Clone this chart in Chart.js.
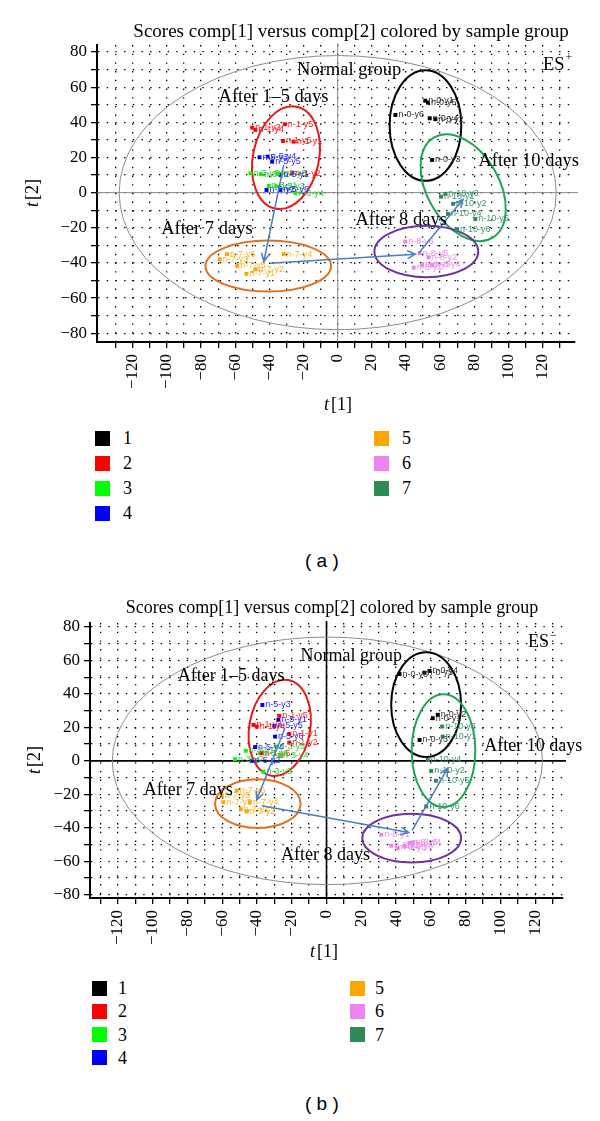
<!DOCTYPE html>
<html><head><meta charset="utf-8">
<script src="https://cdn.jsdelivr.net/npm/chart.js@4.4.1/dist/chart.umd.min.js"></script>
<style>
html,body{margin:0;padding:0;background:#fff;}
body{width:600px;height:1121px;overflow:hidden;position:relative;font-family:"Liberation Serif","DejaVu Serif",serif;}
canvas{position:absolute;left:0;}
.lg{position:absolute;font-size:18px;line-height:18px;color:#000;}
.sw{position:absolute;width:15px;height:15px;}
.cap{position:absolute;font-family:"Liberation Sans",Arial,sans-serif;font-size:19px;color:#000;}
</style></head><body>
<canvas id="ca" width="600" height="420" style="top:0"></canvas>
<canvas id="cb" width="600" height="390" style="top:580px"></canvas>
<div id="legends"></div>
<div class="cap" style="left:305px;top:550px">( a )</div>
<div class="cap" style="left:305px;top:1093px">( b )</div>
<script>
// ---------- DATA ----------
const groupNames = ['1','2','3','4','5','6','7'];
const groupColors = ['#000000','#ff0000','#00ff00','#0000ff','#ffa500','#ee82ee','#2e8b57'];
const labelColors = ['#333333','#ff2020','#30d030','#2a2aff','#ffb420','#f088f0','#3c9a66'];
const xTickValues = [-130,-120,-110,-100,-90,-80,-70,-60,-50,-40,-30,-20,-10,0,10,20,30,40,50,60,70,80,90,100,110,120,130];
const yTickValues = [-80,-70,-60,-50,-40,-30,-20,-10,0,10,20,30,40,50,60,70,80];

// Chart (a) ES+ scores
const a1 = [{x:51.3,y:52.3,n:'n-0-y1'},{x:52.9,y:51.2,n:'n-0-y5'},{x:33.8,y:44.2,n:'n-0-y6'},{x:53.9,y:42.3,n:'n-0-y4'},{x:57.2,y:41.8,n:'n-0-y2'},{x:55.3,y:18.6,n:'n-0-y3'}];
const a2 = [{x:-50.1,y:37,n:'n-1-y3'},{x:-48.2,y:35.7,n:'n-1-y4'},{x:-31,y:38.9,n:'n-1-y5'},{x:-32,y:29.4,n:'n-1-y6'},{x:-25.8,y:29,n:'n-1-y1'},{x:-26.7,y:11,n:'n-1-y2'}];
const a3 = [{x:-51.1,y:11,n:'n-3-y6'},{x:-45,y:10.5,n:'n-3-y2'},{x:-40.4,y:3.8,n:'n-3-y1'},{x:-36,y:3.6,n:'n-3-y3'},{x:-24.8,y:-0.3,n:'n-3-y4'},{x:-35,y:11,n:'n-3-y5'}];
const a4 = [{x:-45.8,y:20.1,n:'n-5-y3'},{x:-41,y:20.5,n:'n-5-y4'},{x:-38.4,y:17.6,n:'n-5-y5'},{x:-33.5,y:10.1,n:'n-5-y1'},{x:-41.7,y:1.5,n:'n-5-y2'},{x:-33.5,y:1.5,n:'n-5-y6'}];
const a5 = [{x:-69.1,y:-37.9,n:'n-7-y3'},{x:-64.8,y:-35,n:'n-7-y6'},{x:-58.9,y:-41.7,n:'n-7-y5'},{x:-31.6,y:-35,n:'n-7-y4'},{x:-48.2,y:-43.6,n:'n-7-y2'},{x:-53.5,y:-46.2,n:'n-7-y1'}];
const a6 = [{x:39.6,y:-27.9,n:'n-8-y6'},{x:48,y:-34.5,n:'n-8-y5'},{x:53.3,y:-36.8,n:'n-8-y2'},{x:44.5,y:-42.7,n:'n-8-y1'},{x:49.4,y:-41.1,n:'n-8-y3'},{x:55.3,y:-41.1,n:'n-8-y4'}];
const a7 = [{x:60.5,y:-2.3,n:'n-10-y1'},{x:63,y:-0.7,n:'n-10-y3'},{x:67.6,y:-6.4,n:'n-10-y2'},{x:64.6,y:-12.1,n:'n-10-y4'},{x:80.6,y:-15,n:'n-10-y5'},{x:69.9,y:-20.8,n:'n-10-y6'}];

// Chart (b) ES- scores
const b1 = [{x:42,y:51.9,n:'n-0-y6'},{x:56.3,y:52.7,n:'n-0-y5'},{x:59.2,y:53.7,n:'n-0-y4'},{x:61.1,y:25.5,n:'n-0-y1'},{x:64,y:27.5,n:'n-0-y2'},{x:53.5,y:12.5,n:'n-0-y3'}];
const b2 = [{x:-42,y:21.5,n:'n-1-y3'},{x:-40.1,y:20.5,n:'n-1-y4'},{x:-27.2,y:26.9,n:'n-1-y5'},{x:-21.4,y:16.1,n:'n-1-y1'},{x:-21.4,y:10.9,n:'n-1-y2'},{x:-37.3,y:4.6,n:'n-1-y6'}];
const b3 = [{x:-46.4,y:6,n:'n-3-y1'},{x:-52.6,y:1,n:'n-3-y2'},{x:-28.7,y:8.5,n:'n-3-y5'},{x:-36.3,y:-6.4,n:'n-3-y3'},{x:-26.8,y:3,n:'n-3-y4'},{x:-38.2,y:4.6,n:'n-3-y6'}];
const b4 = [{x:-36.9,y:33.4,n:'n-5-y3'},{x:-27.7,y:24.5,n:'n-5-y1'},{x:-30,y:20.9,n:'n-5-y5'},{x:-29.6,y:14.5,n:'n-5-y6'},{x:-41.1,y:8.2,n:'n-5-y4'},{x:-43,y:0,n:'n-5-y2'}];
const b5 = [{x:-51.6,y:-17.7,n:'n-7-y6'},{x:-60.2,y:-20.9,n:'n-7-y5'},{x:-59.3,y:-24.7,n:'n-7-y3'},{x:-44,y:-24.7,n:'n-7-y4'},{x:-49.3,y:-28.9,n:'n-7-y1'},{x:-45.8,y:-30.2,n:'n-7-y2'}];
const b6 = [{x:31.5,y:-44.2,n:'n-8-y1'},{x:37.2,y:-50.7,n:'n-8-y2'},{x:41,y:-52.1,n:'n-8-y3'},{x:47.7,y:-49.1,n:'n-8-y5'},{x:49.6,y:-48.8,n:'n-8-y4'},{x:44.9,y:-51.2,n:'n-8-y6'}];
const b7 = [{x:66.5,y:20.5,n:'n-10-y3'},{x:66.8,y:14.5,n:'n-10-y1'},{x:58.2,y:0.6,n:'n-10-y4'},{x:60.2,y:-6,n:'n-10-y2'},{x:63,y:-11.9,n:'n-10-y5'},{x:57.3,y:-27.3,n:'n-10-y6'}];

// confidence ellipses: centre, semi-axes (data units), tilt (deg)
const ellA = [
  {cx:0,cy:0,rx:128,ry:78,rot:0,c:'#8c8c8c',w:1},
  {cx:51.4,cy:38.2,rx:21,ry:31.5,rot:0,c:'#000000',w:2},
  {cx:-30.3,cy:19.9,rx:19.3,ry:29.6,rot:12,c:'#e8191b',w:2},
  {cx:73.5,cy:2.8,rx:21.1,ry:33,rot:-30,c:'#1fa653',w:2},
  {cx:-40.7,cy:-41.8,rx:36.8,ry:14.5,rot:0,c:'#e0701e',w:2},
  {cx:51.9,cy:-33.5,rx:30.4,ry:14.6,rot:0,c:'#7030a0',w:2}
];
const ellB = [
  {cx:0.5,cy:0,rx:123.7,ry:74,rot:0,c:'#8c8c8c',w:1},
  {cx:57.3,cy:33.6,rx:20.1,ry:31.3,rot:0,c:'#000000',w:2},
  {cx:-26.9,cy:19.7,rx:17.5,ry:29,rot:10,c:'#e8191b',w:2},
  {cx:67.3,cy:6.1,rx:18.3,ry:33.7,rot:0,c:'#1fa653',w:2},
  {cx:-39.5,cy:-25.6,rx:24.6,ry:14.6,rot:0,c:'#e0701e',w:2},
  {cx:49,cy:-46.2,rx:28.4,ry:14.6,rot:0,c:'#7030a0',w:2}
];
// trajectory arrows [x1,y1,x2,y2]
const arrA = [[-31.6,15.8,-43.3,-39.2],[-39.4,-40.2,45.5,-35],[47.4,-34.5,73.4,-3.8]];
const arrB = [[-23.9,19.5,-40.1,-23.3],[-37.2,-26.9,47.3,-42.8],[49.3,-41.6,69.7,-4.4]];
// annotations (left edge x, middle y in data units)
const noteA = [{t:'Normal group',x:-23.8,y:69.8},{t:'After 1\u20135 days',x:-69.8,y:54.4},{t:'After 10 days',x:82.4,y:18},{t:'After 7 days',x:-103.4,y:-20.6},{t:'After 8 days',x:10.4,y:-15.5}];
const noteB = [{t:'Normal group',x:-14.9,y:62.7},{t:'After 1\u20135 days',x:-85.6,y:50.7},{t:'After 10 days',x:90.7,y:9},{t:'After 7 days',x:-105.1,y:-17.3},{t:'After 8 days',x:-26.2,y:-56.5}];

// ---------- RENDER ----------
const SERIF = '"Liberation Serif","DejaVu Serif",serif';
const SANS = '"Liberation Sans",Arial,sans-serif';
const fmt = v => (v < 0 ? '\u2212' + Math.abs(v) : String(v));

function overlay(spec){
  return {
    id:'ov',
    beforeDatasetsDraw(chart){
      const {ctx, chartArea:a, scales:{x,y}} = chart;
      ctx.save();
      const x0=x.getPixelForValue(0), y0=y.getPixelForValue(0);
      ctx.strokeStyle=spec.zeroColor; ctx.lineWidth=spec.zeroWidth;
      ctx.beginPath(); ctx.moveTo(x0,a.top-2); ctx.lineTo(x0,a.bottom);
      ctx.moveTo(a.left,y0); ctx.lineTo(a.right+3,y0); ctx.stroke();
      spec.ell.forEach(e=>{
        const cx=x.getPixelForValue(e.cx), cy=y.getPixelForValue(e.cy);
        const rx=Math.abs(x.getPixelForValue(e.cx+e.rx)-cx), ry=Math.abs(y.getPixelForValue(e.cy+e.ry)-cy);
        ctx.beginPath(); ctx.strokeStyle=e.c; ctx.lineWidth=e.w;
        ctx.ellipse(cx,cy,rx,ry,e.rot*Math.PI/180,0,Math.PI*2); ctx.stroke();
      });
      ctx.restore();
    },
    afterDatasetsDraw(chart){
      const {ctx, chartArea:a, scales:{x,y}} = chart;
      ctx.save();
      // point labels
      ctx.font = '9px '+SANS; ctx.textBaseline='middle'; ctx.textAlign='left';
      chart.data.datasets.forEach((ds,i)=>{
        const meta = chart.getDatasetMeta(i);
        ctx.fillStyle = labelColors[i];
        meta.data.forEach((pt,j)=>{ ctx.fillText(ds.data[j].n, pt.x+3, pt.y); });
      });
      // arrows
      ctx.strokeStyle='#4a7ebf'; ctx.lineWidth=1.5;
      spec.arr.forEach(r=>{
        const x1=x.getPixelForValue(r[0]), y1=y.getPixelForValue(r[1]);
        const x2=x.getPixelForValue(r[2]), y2=y.getPixelForValue(r[3]);
        const ang=Math.atan2(y2-y1,x2-x1), h=9, s=0.45;
        ctx.beginPath(); ctx.moveTo(x1,y1); ctx.lineTo(x2,y2);
        ctx.moveTo(x2-h*Math.cos(ang-s), y2-h*Math.sin(ang-s)); ctx.lineTo(x2,y2);
        ctx.lineTo(x2-h*Math.cos(ang+s), y2-h*Math.sin(ang+s)); ctx.stroke();
      });
      // annotations
      ctx.fillStyle='#000'; ctx.font=spec.noteFont+'px '+SERIF; ctx.textBaseline='middle'; ctx.textAlign='left';
      spec.notes.forEach(n=>{ ctx.fillText(n.t, x.getPixelForValue(n.x), y.getPixelForValue(n.y)); });
      // ES label
      const ex=spec.es.x, ey=spec.es.y;
      ctx.fillText('ES', ex, ey);
      const w=ctx.measureText('ES').width;
      ctx.font='12px '+SERIF; ctx.fillText(spec.es.sup, ex+w+1, ey-7);
      // title
      ctx.font=spec.titleFont+'px '+SERIF; ctx.textAlign='center';
      ctx.fillText('Scores comp[1] versus comp[2] colored by sample group', spec.titleX, spec.titleY);
      // axis titles
      function axTitle(num, cx, cy, rot){
        ctx.save(); ctx.translate(cx,cy); if(rot) ctx.rotate(-Math.PI/2);
        ctx.font='italic 18px '+SERIF; const wt=ctx.measureText('t').width+2;
        ctx.font='18px '+SERIF; const wr=ctx.measureText('['+num+']').width;
        const st=-(wt+wr)/2;
        ctx.textAlign='left'; ctx.textBaseline='middle';
        ctx.font='italic 18px '+SERIF; ctx.fillText('t', st, 0);
        ctx.font='18px '+SERIF; ctx.fillText('['+num+']', st+wt, 0);
        ctx.restore();
      }
      axTitle(1, spec.xt[0], spec.xt[1], false);
      axTitle(2, spec.yt[0], spec.yt[1], true);
      ctx.restore();
    }
  };
}

function makeChart(id, groups, spec){
  const datasets = groups.map((g,i)=>({
    label: groupNames[i], data: g, pointStyle:'rect', pointRadius:2.8, pointBorderWidth:0,
    backgroundColor: groupColors[i], borderColor: groupColors[i]
  }));
  const gridOpts = {color:'#000', lineWidth:1.3, drawTicks:true, tickLength:6, tickWidth:1.3, tickColor:'#000'};
  return new Chart(document.getElementById(id), {
    type:'scatter',
    data:{datasets},
    options:{
      responsive:false, animation:false, events:[],
      layout:{padding:{top:spec.top,right:spec.right,left:0,bottom:0}},
      plugins:{legend:{display:false},tooltip:{enabled:false},title:{display:false}},
      scales:{
        x:{type:'linear',min:spec.xmin,max:spec.xmax,
          afterBuildTicks:s=>{s.ticks=xTickValues.map(v=>({value:v}));},
          afterFit:s=>{s.height=spec.xh;},
          ticks:{autoSkip:false,minRotation:90,maxRotation:90,padding:6,color:'#000',font:{family:SERIF,size:17},
            callback:v=>(v%20===0?fmt(v):'')},
          grid:gridOpts,
          border:{display:true,color:'#000',width:2,dash:[1.4,7.3]}
        },
        y:{type:'linear',min:spec.ymin,max:spec.ymax,
          afterBuildTicks:s=>{s.ticks=yTickValues.map(v=>({value:v}));},
          afterFit:s=>{s.width=spec.yw;},
          ticks:{autoSkip:false,padding:4,color:'#000',font:{family:SERIF,size:17},
            callback:v=>(v%20===0?fmt(v):'')},
          grid:gridOpts,
          border:{display:true,color:'#000',width:2,dash:[1.4,7.3]}
        }
      }
    },
    plugins:[overlay(spec)]
  });
}

makeChart('ca',[a1,a2,a3,a4,a5,a6,a7],{
  top:45,right:25,xh:78,yw:97,xmin:-141,xmax:139,ymin:-85,ymax:84,
  zeroColor:'#8a8a8a',zeroWidth:1,ell:ellA,arr:arrA,notes:noteA,noteFont:18.5,
  es:{x:543,y:65,sup:'+'},titleFont:19,titleX:351,titleY:32,xt:[338,405],yt:[33,193]
});
makeChart('cb',[b1,b2,b3,b4,b5,b6,b7],{
  top:43,right:37,xh:72,yw:90,xmin:-136,xmax:136,ymin:-82,ymax:82.4,
  zeroColor:'#000',zeroWidth:1.6,ell:ellB,arr:arrB,notes:noteB,noteFont:18,
  es:{x:528,y:62.7,sup:'\u2212'},titleFont:18,titleX:332,titleY:28,xt:[324,372],yt:[35,180]
});

// legends (HTML)
const legSpec = [
  {top:438,gap:25,c1:[95,123],c2:[374,402]},
  {top:988,gap:23.3,c1:[92,118],c2:[350,375]}
];
const legHost = document.getElementById('legends');
legSpec.forEach(L=>{
  groupNames.forEach((nm,i)=>{
    const col = i<4 ? L.c1 : L.c2, row = i<4 ? i : i-4;
    const cy = L.top + row*L.gap;
    const sw = document.createElement('div'); sw.className='sw';
    sw.style.left=col[0]+'px'; sw.style.top=(cy-7.5)+'px'; sw.style.background=groupColors[i];
    const tx = document.createElement('div'); tx.className='lg';
    tx.style.left=col[1]+'px'; tx.style.top=(cy-9)+'px'; tx.textContent=nm;
    legHost.appendChild(sw); legHost.appendChild(tx);
  });
});
</script>
</body></html>
